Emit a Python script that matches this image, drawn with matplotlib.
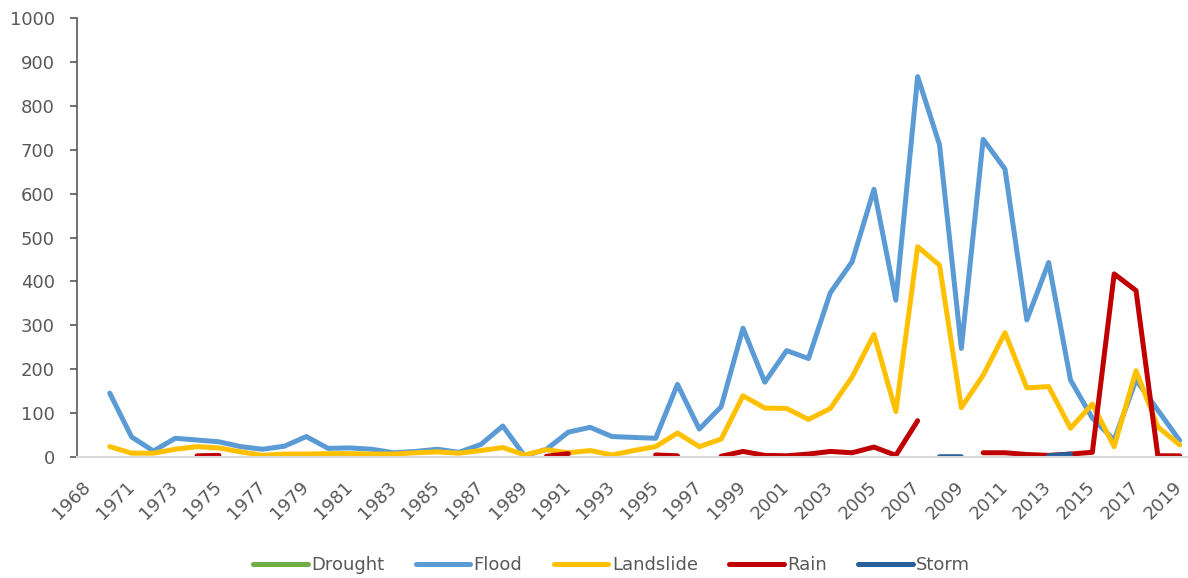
import numpy as np
import matplotlib
matplotlib.use("Agg")
import matplotlib.pyplot as plt

# Categories: 1968, then 1970..2019 (every other label shown)
years = [1968] + list(range(1970, 2020))

nan = np.nan
drought = [nan] * len(years)

flood = [nan, 145, 45, 13, 42, 38, 34, 23, 17, 24, 46, 19, 20, 17, 9, 12, 17, 10,
         28, 70, 2, 17, 56, 67, 46, 44, 42, 165, 63, 114, 293, 170, 242, 224, 374,
         445, 610, 357, 867, 712, 247, 724, 656, 312, 443, 175, 88, 38, 175, 106, 37]

landslide = [nan, 23, 8, 8, 17, 23, 20, 11, 3, 6, 6, 7, 7, 6, 6, 9, 11, 8, 14, 21,
             4, 16, 9, 14, 4, 14, 23, 54, 23, 40, 139, 111, 110, 85, 110, 182, 279,
             103, 479, 437, 112, 186, 283, 157, 160, 65, 120, 23, 196, 68, 27]

rain = [nan, nan, nan, nan, nan, 2, 3, nan, nan, nan, nan, nan, nan, nan, nan, nan,
        nan, nan, nan, nan, nan, 1, 7, nan, nan, nan, 4, 2, nan, 1, 12, 3, 2, 6, 12,
        9, 22, 3, 82, nan, nan, 9, 9, 5, 3, 6, 10, 417, 379, 2, 2]

storm = [nan] * 39 + [0, 0] + [nan] * 3 + [2, 6] + [nan] * 5

series = [
    ("Drought", drought, "#70AD47"),
    ("Flood", flood, "#5B9BD5"),
    ("Landslide", landslide, "#FFC000"),
    ("Rain", rain, "#C00000"),
    ("Storm", storm, "#2A6099"),
]

plt.rcParams["font.family"] = ["DejaVu Sans"]
text_color = "#595959"

fig = plt.figure(figsize=(11.88, 5.78), dpi=100)
ax = fig.add_axes([77 / 1188, 121.3 / 578, (1190.6 - 77) / 1188, 0.7584])

x = np.arange(len(years))
for name, vals, color in series:
    ax.plot(x, vals, color=color, linewidth=3.6, solid_capstyle="round",
            solid_joinstyle="round", label=name)

ax.set_xlim(-0.5, len(years) - 0.5)
ax.set_ylim(0, 1000)
ax.set_yticks(range(0, 1001, 100))
ax.set_xticks(x[::2])
ax.set_xticklabels([str(y) for y in years[::2]], rotation=45, ha="right",
                   va="center", rotation_mode="anchor")

for s in ("top", "right"):
    ax.spines[s].set_visible(False)
ax.spines["left"].set_color("#595959")
ax.spines["left"].set_linewidth(1.2)
ax.spines["bottom"].set_color("#D9D9D9")
ax.spines["bottom"].set_linewidth(1.5)

ax.tick_params(axis="y", colors=text_color, labelsize=13, length=5, width=1.2,
               direction="out", pad=11)
ax.tick_params(axis="x", colors=text_color, labelsize=13, length=0, pad=20)

leg = fig.legend(loc="center", bbox_to_anchor=(0.515, 0.022), ncol=5, frameon=False,
                 fontsize=13, handlelength=3.0, handletextpad=0.2, columnspacing=1.75)
for t in leg.get_texts():
    t.set_color(text_color)

fig.savefig("out.png", dpi=100)
